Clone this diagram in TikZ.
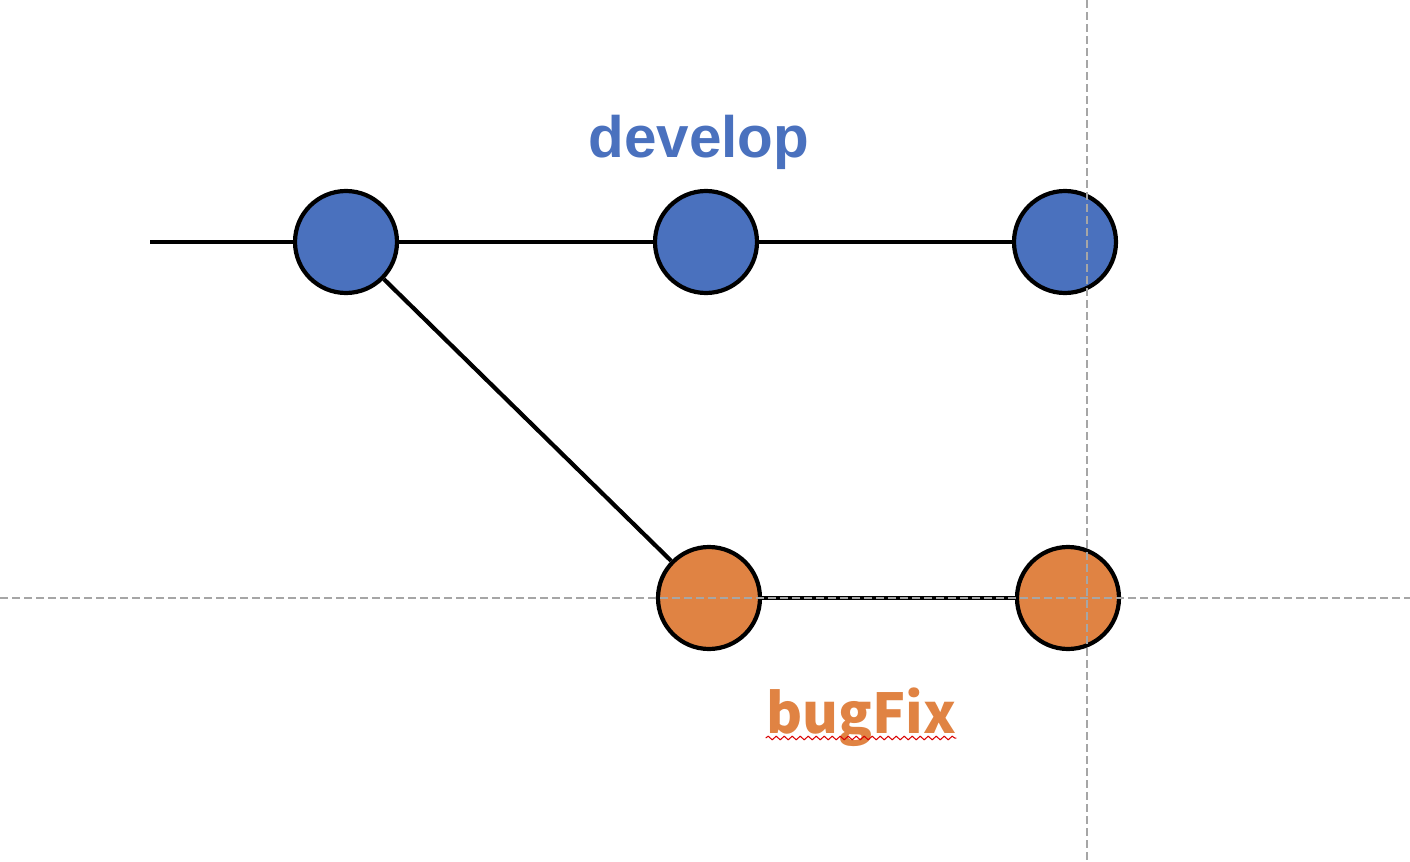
\documentclass[tikz,border=0pt]{standalone}
\usepackage{fontspec}
\newfontfamily\labelfont{Liberation Sans}
\newfontfamily\jpfont{Noto Sans CJK JP}
\usetikzlibrary{positioning,decorations.pathmorphing}
\definecolor{devblue}{HTML}{4A71BE}
\definecolor{fixorange}{HTML}{E08343}
\definecolor{guidegray}{HTML}{A6A6A6}

\begin{document}
\begin{tikzpicture}[
  x=0.5pt, y=-0.5pt,
  commit/.style={circle, draw, line width=2.1pt, minimum size=51pt, inner sep=0pt},
  devcommit/.style={commit, fill=devblue},
  fixcommit/.style={commit, fill=fixorange},
  edge/.style={line width=2.1pt},
  guide/.style={guidegray, line width=0.75pt, dash pattern=on 4pt off 2pt}
]
\useasboundingbox (0,0) rectangle (1410,862);
% branch lines first, commits on top
\coordinate (start) at (150,242);
\node[devcommit] (d1) at (346,242) {};
\node[devcommit] (d2) at (706,242) {};
\node[devcommit] (d3) at (1065,242) {};
\node[fixcommit] (b1) at (709,598) {};
\node[fixcommit] (b2) at (1068,598) {};
\draw[edge] (start) -- (d1);
\draw[edge] (d1) -- (d2);
\draw[edge] (d2) -- (d3);
\draw[edge] (d1) -- (b1);
\draw[edge] (b1) -- (b2);
% branch names
\node[font=\labelfont\bfseries\fontsize{29.2}{35}\selectfont, text=devblue, inner sep=0pt, anchor=base] (dev) at (699,157) {develop};
\node[font=\jpfont\bfseries\fontsize{27.5}{33}\selectfont, text=fixorange, inner sep=0pt, anchor=base] (fix) at (861,733) {bugFix};
\draw[red!85!black, line width=0.5pt, decorate, decoration={snake, segment length=4pt, amplitude=0.9pt}]
  ([yshift=-2.5pt]fix.base west) -- ([yshift=-2.5pt]fix.base east);
% alignment guides
\draw[guide] (0,598) -- (1410,598);
\draw[guide] (1087,0) -- (1087,862);
\end{tikzpicture}
\end{document}
